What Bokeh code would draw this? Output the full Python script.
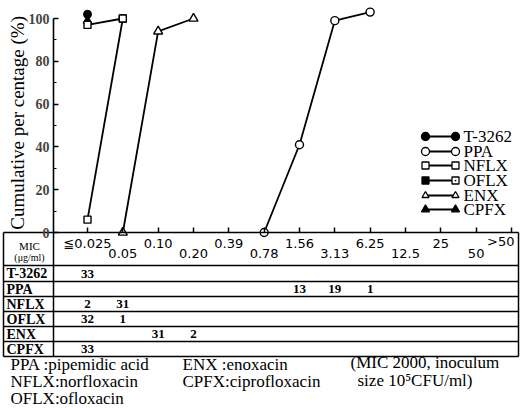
import numpy as np
from bokeh.plotting import figure
from bokeh.models import Range1d, LinearAxis, FixedTicker, CustomJSTickFormatter
from bokeh.core.properties import value
from bokeh.embed import file_html
from bokeh.resources import INLINE

# ---------------- data ----------------
mic_labels = ["≦0.025", "0.05", "0.10", "0.20", "0.39", "0.78", "1.56",
              "3.13", "6.25", "12.5", "25", "50", ">50"]
drugs = ["T-3262", "PPA", "NFLX", "OFLX", "ENX", "CPFX"]

# number of strains at each MIC (None = blank cell)
counts_t3262 = [33, None, None, None, None, None, None, None, None, None, None, None, None]
counts_ppa = [None, None, None, None, None, None, 13, 19, 1, None, None, None, None]
counts_nflx = [2, 31, None, None, None, None, None, None, None, None, None, None, None]
counts_oflx = [32, 1, None, None, None, None, None, None, None, None, None, None, None]
counts_enx = [None, None, 31, 2, None, None, None, None, None, None, None, None, None]
counts_cpfx = [33, None, None, None, None, None, None, None, None, None, None, None, None]
counts_all = [counts_t3262, counts_ppa, counts_nflx, counts_oflx, counts_enx, counts_cpfx]

# cumulative percentage curves (x = MIC column index)
t3262_x, t3262_y = [0], [102]
ppa_x, ppa_y = [5, 6, 7, 8], [0, 41, 99, 103]
nflx_x, nflx_y = [0, 1], [6, 100]
oflx_x, oflx_y = [0, 1], [97, 100]
enx_x, enx_y = [1, 2, 3], [0, 94, 100]
cpfx_x, cpfx_y = [0], [99]

y_ticks = [0, 20, 40, 60, 80, 100]
y_minor = [10, 30, 50, 70, 90]

footnotes_left = ["PPA  :pipemidic acid", "NFLX:norfloxacin", "OFLX:ofloxacin"]
footnotes_mid = ["ENX  :enoxacin", "CPFX:ciprofloxacin"]
footnotes_right = ["(MIC 2000,  inoculum", "size 10⁵CFU/ml)"]

# ---------------- layout constants ----------------
W, H = 520, 408
X0, DX = 87.0, 35.33      # pixel of first MIC column, pixels per column
Y0, DY = 232.0, 2.14      # pixel of 0 %, pixels per %
AXIS_PX = 53.0
def col(px):
    return (px - X0) / DX

SERIF = value("Liberation Serif")
SANS = value("DejaVu Sans")

p = figure(width=W, height=H,
           x_range=Range1d(-X0 / DX, (W - X0) / DX),
           y_range=Range1d(-(H - Y0) / DY, Y0 / DY),
           x_axis_type=None, y_axis_type=None,
           toolbar_location=None, output_backend="svg",
           min_border=0, outline_line_color=None,
           background_fill_color="white", border_fill_color="white")
p.extra_x_ranges = {"px": Range1d(0, W)}
p.extra_y_ranges = {"px": Range1d(H, 0)}

# ---------------- axes ----------------
yax = LinearAxis(fixed_location=col(AXIS_PX), bounds=(0, 100),
                 ticker=FixedTicker(ticks=y_ticks, minor_ticks=y_minor),
                 major_tick_in=5, major_tick_out=0,
                 minor_tick_in=3, minor_tick_out=0,
                 axis_line_width=1.6, major_tick_line_width=1.5,
                 minor_tick_line_width=1.2,
                 major_label_text_font="Liberation Serif",
                 major_label_text_font_style="bold",
                 major_label_text_font_size="14px",
                 major_label_standoff=4)
p.add_layout(yax, "left")

xax = LinearAxis(fixed_location=0,
                 ticker=FixedTicker(ticks=list(range(len(mic_labels))), minor_ticks=[]),
                 major_tick_in=5, major_tick_out=0,
                 minor_tick_in=0, minor_tick_out=0,
                 axis_line_color=None, major_tick_line_width=1.5,
                 formatter=CustomJSTickFormatter(code="return ''"))
p.add_layout(xax, "below")

p.text(x=[17], y=[120], text=["Cumulative  per centage (%)"], angle=np.pi / 2,
       x_range_name="px", y_range_name="px", text_font=SERIF,
       text_font_size="19px", text_align="center", text_baseline="middle",
       text_color="black")

# ---------------- curves ----------------
LW = 1.8
for xs, ys in [(ppa_x, ppa_y), (nflx_x, nflx_y), (oflx_x, oflx_y), (enx_x, enx_y)]:
    p.line(xs, ys, line_color="black", line_width=LW)

p.scatter(ppa_x, ppa_y, marker="circle", size=8, fill_color="white", line_color="black", line_width=1.4)
p.scatter(enx_x, enx_y, marker="triangle", size=9, fill_color="white", line_color="black", line_width=1.4)
p.scatter(nflx_x, nflx_y, marker="square", size=7, fill_color="white", line_color="black", line_width=1.4)
p.scatter(cpfx_x, cpfx_y, marker="triangle", size=9, fill_color="black", line_color="black")
p.scatter(t3262_x, t3262_y, marker="circle", size=8, fill_color="black", line_color="black")
p.scatter(oflx_x, oflx_y, marker="square", size=7, fill_color="white", line_color="black", line_width=1.4)

# ---------------- legend (drawn) ----------------
leg_y = [136, 151, 165, 180, 195, 209]
leg_x0, leg_x1, leg_tx = 425, 455, 463
leg_left = [("circle", "black", 8), ("circle", "white", 8), ("square", "white", 7),
            ("square", "black", 7), ("triangle", "white", 7), ("triangle", "black", 8)]
leg_right = [("circle", "black", 8), ("circle", "white", 8), ("square", "white", 7),
             ("square_dot", "white", 7), ("triangle", "white", 7), ("triangle", "black", 8)]
p.segment(x0=[leg_x0] * 6, x1=[leg_x1] * 6, y0=leg_y, y1=leg_y,
          x_range_name="px", y_range_name="px", line_color="black", line_width=LW)
for (mk, fc, sz), yy in zip(leg_left, leg_y):
    p.scatter([leg_x0], [yy], marker=mk, size=sz, fill_color=fc, line_color="black",
              line_width=1.3, x_range_name="px", y_range_name="px")
for (mk, fc, sz), yy in zip(leg_right, leg_y):
    p.scatter([leg_x1], [yy], marker=mk, size=sz, fill_color=fc, line_color="black",
              line_width=1.3, x_range_name="px", y_range_name="px")
p.text(x=[leg_tx] * 6, y=leg_y, text=drugs, x_range_name="px", y_range_name="px",
       text_font=SERIF, text_font_size="17px", text_align="left",
       text_baseline="middle", text_color="black")

# ---------------- table ----------------
T_LEFT, T_RIGHT = 3, 518
row_lines = [232, 265, 281, 296, 311, 326, 341, 356]
p.segment(x0=[T_LEFT] * len(row_lines), x1=[T_RIGHT] * len(row_lines),
          y0=row_lines, y1=row_lines, x_range_name="px", y_range_name="px",
          line_color="black", line_width=1.5)
p.segment(x0=[T_LEFT, AXIS_PX, T_RIGHT], x1=[T_LEFT, AXIS_PX, T_RIGHT],
          y0=[232] * 3, y1=[356] * 3, x_range_name="px", y_range_name="px",
          line_color="black", line_width=1.5)

# header cell
p.text(x=[29, 29], y=[245, 257], text=["MIC", "(μg/ml)"], x_range_name="px",
       y_range_name="px", text_font=SERIF, text_font_size=["11px", "10px"],
       text_align="center", text_baseline="middle", text_color="black")

# MIC column labels, alternately raised / lowered
hdr_x = list(range(len(mic_labels) - 1))
hdr_y = [243 if i % 2 == 0 else 253 for i in hdr_x]
p.text(x=hdr_x, y=hdr_y, text=mic_labels[:-1], y_range_name="px",
       text_font=SANS, text_font_size="13px", text_align="center",
       text_baseline="middle", text_color="black")
p.text(x=[len(mic_labels) - 1], y=[241], text=mic_labels[-1:], y_range_name="px",
       text_font=SANS, text_font_size="13px", text_align="right", x_offset=3,
       text_baseline="middle", text_color="black")

# row labels and counts
row_c = [(row_lines[i + 1] + row_lines[i + 2]) / 2 for i in range(len(drugs))]
p.text(x=[6] * len(drugs), y=row_c, text=drugs, x_range_name="px", y_range_name="px",
       text_font=SERIF, text_font_size="14px", text_font_style="bold",
       text_align="left", text_baseline="middle", text_color="black")
cx, cy, ct = [], [], []
for r, cnts in enumerate(counts_all):
    for i, c in enumerate(cnts):
        if c is not None:
            cx.append(i)
            cy.append(row_c[r])
            ct.append(str(c))
p.text(x=cx, y=cy, text=ct, y_range_name="px", text_font=SERIF,
       text_font_size="13px", text_font_style="bold", text_align="center",
       text_baseline="middle", text_color="black")

# ---------------- footnotes ----------------
p.text(x=[10] * 3, y=[364, 381, 398], text=footnotes_left, x_range_name="px",
       y_range_name="px", text_font=SERIF, text_font_size="17px",
       text_align="left", text_baseline="middle", text_color="black")
p.text(x=[182] * 2, y=[364, 381], text=footnotes_mid, x_range_name="px",
       y_range_name="px", text_font=SERIF, text_font_size="17px",
       text_align="left", text_baseline="middle", text_color="black")
p.text(x=[350, 357], y=[362, 380], text=footnotes_right, x_range_name="px",
       y_range_name="px", text_font=SERIF, text_font_size="17px",
       text_align="left", text_baseline="middle", text_color="black")

open("out.html", "w").write(file_html(p, INLINE))
